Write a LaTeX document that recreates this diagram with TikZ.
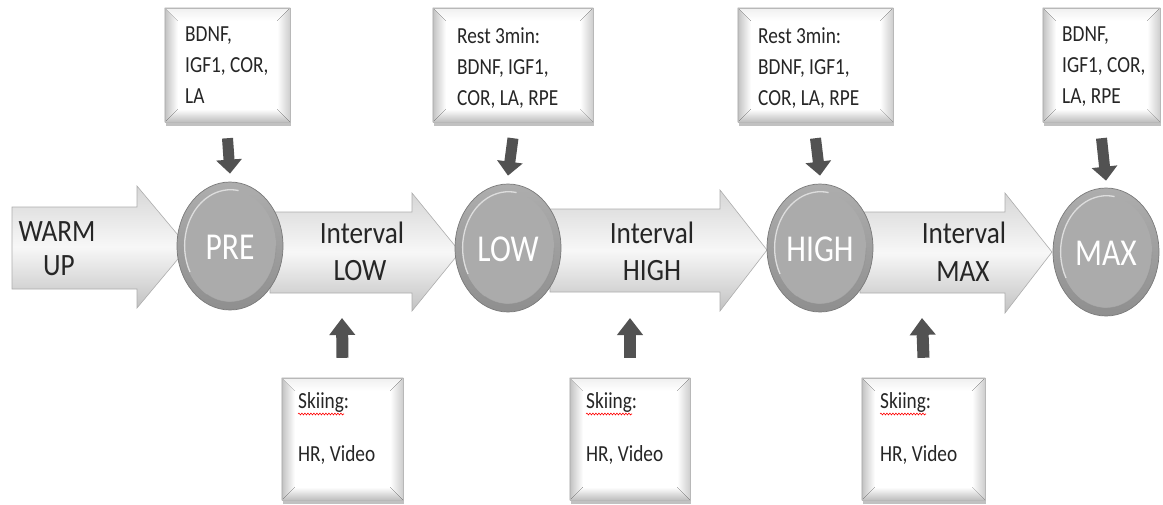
\documentclass[tikz,border=0pt]{standalone}
\usepackage{fontspec}
\setmainfont{Carlito}
\usepackage{graphicx}
\usetikzlibrary{shapes.geometric,arrows.meta,shadows,decorations.pathmorphing,calc}
\newcommand{\sq}[1]{\scalebox{0.84}[1]{#1}}
\newcommand{\sqb}[1]{\scalebox{0.88}[1]{#1}}
\newcommand{\bevel}[1]{%
  \fill[left color=black!24, right color=white] (#1.north west) -- (#1.south west) -- ($(#1.south west)+(13,-13)$) -- ($(#1.north west)+(13,13)$) -- cycle;
  \fill[top color=black!6, bottom color=white] (#1.north west) -- (#1.north east) -- ($(#1.north east)+(-13,13)$) -- ($(#1.north west)+(13,13)$) -- cycle;
  \fill[left color=white, right color=black!20] (#1.north east) -- (#1.south east) -- ($(#1.south east)+(-13,-13)$) -- ($(#1.north east)+(-13,13)$) -- cycle;
  \fill[top color=white, bottom color=black!26] (#1.south west) -- (#1.south east) -- ($(#1.south east)+(-13,-13)$) -- ($(#1.south west)+(13,-13)$) -- cycle;
  \draw[black!28, line width=0.5pt] (#1.north west) rectangle (#1.south east);
}
\begin{document}
\begin{tikzpicture}[x=1pt,y=-1pt,
  databox/.style={rectangle, fill=white, inner sep=0pt,
    drop shadow={shadow xshift=1pt, shadow yshift=-4pt, opacity=0.35, fill=black!70}},
  boxtxt/.style={inner sep=0pt, font=\fontsize{23}{31}\selectfont, align=left, text=black!85},
  ivtxt/.style={inner sep=0pt, font=\fontsize{31}{35}\selectfont, text=black!85},
  stagetxt/.style={inner sep=0pt, font=\fontsize{38}{40}\selectfont, text=white},
  blockarrow/.style={draw=black!32, line width=0.6pt, top color=black!16, bottom color=black!24, middle color=black!3},
  stage/.style={ellipse, minimum width=106pt, minimum height=128pt, inner sep=0pt,
    draw=black!52, line width=0.7pt, top color=black!32, bottom color=black!44,
    path picture={
      \fill[black!33] (path picture bounding box.center) ellipse (46pt and 56pt);
      \draw[white, opacity=0.6, line width=1.3pt] ($(path picture bounding box.center)+(-40pt,-26pt)$) arc[start angle=208, end angle=80, x radius=46pt, y radius=56pt];
      \draw[black!45, opacity=0.45, line width=0.8pt] ($(path picture bounding box.center)+(46pt,0pt)$) arc[start angle=0, end angle=-120, x radius=46pt, y radius=56pt];
    }},
  dnarrow/.style={line width=11pt, draw=black!68, -{Triangle[width=25pt,length=14pt]}},
  uparrow/.style={line width=12pt, draw=black!68, -{Triangle[width=25pt,length=17pt]}},
  spell/.style={red, line width=0.6pt, decorate, decoration={snake, amplitude=0.9pt, segment length=3pt}}
]
\useasboundingbox (0,0) rectangle (1163,504);

% block arrows
\path[blockarrow] (12,207) -- (137,207) -- (137,186) -- (188,247) -- (137,308) -- (137,289) -- (12,289) -- cycle;
\path[blockarrow] (270,212) -- (412,212) -- (412,193) -- (460,252) -- (412,311) -- (412,293) -- (270,293) -- cycle;
\path[blockarrow] (550,209) -- (720,209) -- (720,190) -- (767,250) -- (720,311) -- (720,292) -- (550,292) -- cycle;
\path[blockarrow] (860,212) -- (1005,212) -- (1005,193) -- (1052,252) -- (1005,313) -- (1005,293) -- (860,293) -- cycle;

\coordinate (ivlowb) at (342,293);
\coordinate (ivhighb) at (630,292);
\coordinate (ivmaxb) at (922,293);

% stage ellipses
\node[stage] (pre) at (230,246) {};
\node[stage] (low) at (508,248) {};
\node[stage] (high) at (820,248) {};
\node[stage] (max) at (1106,252) {};

\node[stagetxt, anchor=base] (pret) at (230,259) {\scalebox{0.83}[1]{PRE}};
\node[stagetxt, anchor=base] (lowt) at (508,261) {\scalebox{0.83}[1]{LOW}};
\node[stagetxt, anchor=base] (hight) at (820,261) {\scalebox{0.83}[1]{HIGH}};
\node[stagetxt, anchor=base] (maxt) at (1106,265) {\scalebox{0.83}[1]{MAX}};

% arrow texts
\node[ivtxt, anchor=base] (wu1) at (57,241) {\sqb{WARM}};
\node[ivtxt, anchor=base] (wu2) at (59,275) {\sqb{UP}};
\node[ivtxt, anchor=base] (il1) at (362,243) {\sqb{Interval}};
\node[ivtxt, anchor=base] (il2) at (360,280) {\sqb{LOW}};
\node[ivtxt, anchor=base] (ih1) at (652,243) {\sqb{Interval}};
\node[ivtxt, anchor=base] (ih2) at (652,280) {\sqb{HIGH}};
\node[ivtxt, anchor=base] (im1) at (964,243) {\sqb{Interval}};
\node[ivtxt, anchor=base] (im2) at (963,281) {\sqb{MAX}};

% top boxes
\node[databox, minimum width=125pt, minimum height=114pt] (b1) at (227.5,65) {};
\node[databox, minimum width=160pt, minimum height=114pt] (b2) at (513,65) {};
\node[databox, minimum width=155pt, minimum height=114pt] (b3) at (815.5,65) {};
\node[databox, minimum width=117pt, minimum height=114pt] (b4) at (1101.5,65) {};
\bevel{b1}\bevel{b2}\bevel{b3}\bevel{b4}

\node[boxtxt, anchor=north west] (t1) at (185,27) {\sq{BDNF,}\\\sq{IGF1, COR,}\\\sq{LA}};
\node[boxtxt, anchor=north west] (t2) at (457,27) {\sq{Rest 3min:}\\\sq{BDNF, IGF1,}\\\sq{COR, LA, RPE}};
\node[boxtxt, anchor=north west] (t3) at (758,27) {\sq{Rest 3min:}\\\sq{BDNF, IGF1,}\\\sq{COR, LA, RPE}};
\node[boxtxt, anchor=north west] (t4) at (1062,27) {\sq{BDNF,}\\\sq{IGF1, COR,}\\\sq{LA, RPE}};

% bottom boxes
\node[databox, minimum width=121pt, minimum height=122pt] (s1) at (342.5,439) {};
\node[databox, minimum width=120pt, minimum height=122pt] (s2) at (630,439) {};
\node[databox, minimum width=123pt, minimum height=122pt] (s3) at (923.5,439) {};
\bevel{s1}\bevel{s2}\bevel{s3}

\node[boxtxt, anchor=base west] (sk1) at (298,408) {\sq{Skiing:}};
\node[boxtxt, anchor=base west] (hr1) at (298,461) {\sq{HR, Video}};
\node[boxtxt, anchor=base west] (sk2) at (586,408) {\sq{Skiing:}};
\node[boxtxt, anchor=base west] (hr2) at (586,461) {\sq{HR, Video}};
\node[boxtxt, anchor=base west] (sk3) at (880,408) {\sq{Skiing:}};
\node[boxtxt, anchor=base west] (hr3) at (880,461) {\sq{HR, Video}};

\draw[spell] ($(sk1.base west)+(0,6)$) -- ($(sk1.base west)+(46,6)$);
\draw[spell] ($(sk2.base west)+(0,6)$) -- ($(sk2.base west)+(46,6)$);
\draw[spell] ($(sk3.base west)+(0,6)$) -- ($(sk3.base west)+(46,6)$);

% down arrows
\draw[dnarrow] ([yshift=-16pt]b1.south) -- ([yshift=8pt]pre.north);
\draw[dnarrow] ([yshift=-16pt]b2.south) -- ([yshift=8pt]low.north);
\draw[dnarrow] ([yshift=-16pt]b3.south) -- ([yshift=8pt]high.north);
\draw[dnarrow] ([yshift=-16pt]b4.south) -- ([yshift=7pt]max.north);

% up arrows
\draw[uparrow] ([yshift=20pt]s1.north) -- ([yshift=-25pt]ivlowb);
\draw[uparrow] ([yshift=20pt]s2.north) -- ([yshift=-26pt]ivhighb);
\draw[uparrow] ([yshift=20pt]s3.north) -- ([yshift=-25pt]ivmaxb);
\end{tikzpicture}
\end{document}
